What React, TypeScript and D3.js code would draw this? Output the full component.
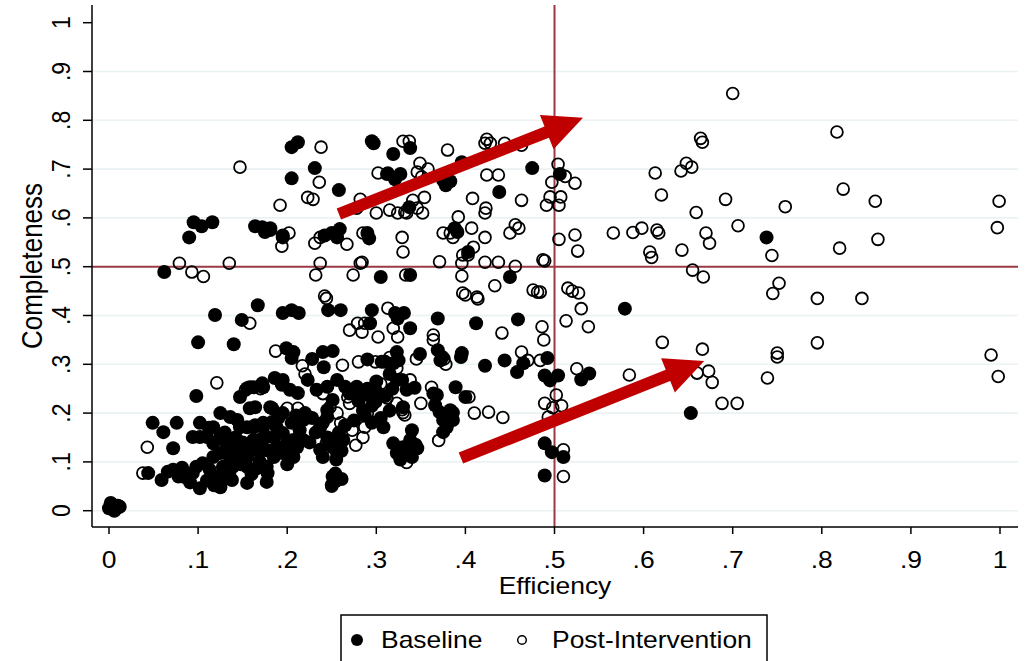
import React from 'react'
import * as d3 from 'd3'

// Baseline facilities: [efficiency, completeness]
const baseline: [number, number][] = [
  [0, .005], [.004, .012], [.008, .004], [.012, .008], [.002, .016], [.006, 0], [.01, .01], [.003, .006],
  [.044, .077], [.059, .063], [.072, .084], [.082, .088], [.085, .069], [.094, .077], [.091, .058], [.102, .046],
  [.105, .097], [.113, .084], [.121, .069], [.125, .048], [.132, .069], [.138, .063], [.127, .063], [.066, .080],
  [.078, .070], [.098, .090], [.110, .062], [.118, .052],
  [.155, .090], [.155, .057], [.177, .090], [.177, .059], [.178, .077], [.160, .075],
  [.049, .180], [.061, .161], [.076, .180], [.072, .128],
  [.094, .151], [.102, .151], [.110, .151], [.125, .151], [.117, .138], [.132, .138], [.139, .124],
  [.102, .180], [.117, .171], [.125, .200], [.136, .192], [.144, .186], [.147, .171],
  [.117, .110], [.125, .118], [.136, .104], [.128, .090], [.147, .118], [.139, .090], [.135, .077], [.155, .110],
  [.155, .130], [.162, .145], [.169, .145], [.177, .151], [.166, .124], [.177, .124],
  [.155, .171], [.164, .175], [.173, .171], [.183, .182], [.162, .171], [.173, .180], [.166, .130], [.173, .149],
  [.188, .171], [.195, .159], [.200, .145], [.214, .165], [.218, .145], [.207, .145],
  [.188, .130], [.203, .124], [.207, .110], [.195, .118], [.211, .130], [.195, .130],
  [.169, .101], [.166, .087],
  [.112, .170], [.130, .160], [.142, .150], [.150, .140], [.185, .150], [.190, .190], [.205, .180], [.210, .195],
  [.228, .190], [.232, .160], [.225, .140], [.140, .105], [.148, .095], [.185, .110], [.200, .095],
  [.158, .210], [.181, .212], [.195, .200], [.220, .200], [.218, .186], [.164, .212], [.183, .210],
  [.098, .235], [.147, .233], [.155, .251], [.162, .253], [.173, .253],
  [.186, .272], [.195, .268], [.158, .253], [.172, .261], [.194, .258], [.203, .248], [.212, .241],
  [.223, .268], [.233, .248], [.245, .254], [.256, .268], [.265, .254], [.278, .254], [.282, .237], [.291, .237], [.299, .223],
  [.237, .171], [.245, .150], [.251, .145], [.259, .150], [.245, .206], [.245, .192], [.251, .227],
  [.240, .110], [.256, .118], [.237, .125], [.251, .130], [.246, .138], [.261, .123], [.255, .105], [.263, .145],
  [.258, .160], [.240, .180], [.265, .175],
  [.251, .070], [.254, .076], [.254, .060], [.250, .053], [.261, .065],
  [.287, .195], [.295, .215], [.280, .225], [.305, .190], [.290, .250], [.300, .245], [.310, .235], [.285, .205],
  [.275, .185], [.295, .180], [.315, .205], [.318, .250], [.270, .240], [.300, .265], [.315, .280],
  [.308, .171], [.340, .165], [.330, .212],
  [.323, .268], [.329, .268], [.334, .248], [.343, .252], [.389, .253], [.400, .233],
  [.364, .240], [.368, .237], [.366, .216], [.371, .202], [.375, .186], [.386, .201], [.386, .186], [.379, .171],
  [.375, .161], [.383, .206],
  [.319, .138], [.330, .130], [.346, .128], [.334, .118], [.323, .118], [.338, .145], [.344, .135], [.327, .105], [.340, .110],
  [.489, .138], [.497, .120], [.510, .110], [.489, .072], [.653, .200],
  [.167, .421], [.119, .401], [.149, .391], [.100, .345], [.140, .341],
  [.195, .405], [.205, .411], [.213, .405], [.246, .411], [.260, .411], [.295, .411],
  [.321, .405], [.331, .405], [.324, .394], [.369, .394], [.412, .384], [.459, .392], [.579, .414],
  [.293, .384], [.338, .374],
  [.199, .333], [.207, .325], [.205, .313], [.228, .311], [.240, .325], [.251, .327], [.241, .294],
  [.290, .310], [.306, .305], [.310, .305], [.323, .325], [.325, .308], [.319, .302], [.349, .321],
  [.369, .329], [.374, .315], [.372, .308], [.395, .315], [.396, .323],
  [.422, .297], [.444, .308], [.458, .284], [.465, .302], [.492, .313],
  [.530, .269], [.539, .281], [.489, .277], [.504, .277], [.495, .267],
  [.062, .489], [.090, .560], [.095, .591], [.104, .583], [.116, .591],
  [.164, .583], [.172, .581], [.181, .575], [.175, .571], [.195, .560], [.181, .579], [.195, .564],
  [.205, .745], [.212, .755], [.205, .681], [.231, .702], [.258, .657],
  [.242, .564], [.250, .569], [.259, .577], [.256, .560],
  [.290, .569], [.292, .558], [.295, .757], [.297, .753], [.319, .731], [.338, .743],
  [.312, .690], [.321, .679], [.327, .690], [.396, .714],
  [.375, .677], [.383, .675], [.378, .667], [.438, .653], [.475, .702], [.506, .690],
  [.337, .622], [.305, .479], [.338, .483],
  [.388, .579], [.391, .571], [.403, .530], [.450, .479], [.738, .560],
]

// Post-intervention facilities
const post: [number, number][] = [
  [.700, .855], [.817, .776], [.664, .763], [.666, .755], [.504, .710], [.512, .685], [.523, .671], [.497, .673],
  [.495, .643], [.507, .643], [.491, .626], [.505, .626], [.613, .692], [.648, .712], [.654, .704], [.642, .696],
  [.620, .647], [.692, .638], [.659, .611], [.759, .623], [.824, .659], [.860, .634], [.999, .634], [.997, .580],
  [.863, .556], [.820, .538], [.744, .523], [.706, .584], [.670, .569], [.674, .548], [.643, .534], [.607, .530],
  [.609, .519], [.615, .575], [.617, .569], [.598, .579], [.588, .570], [.566, .569], [.523, .565], [.505, .556],
  [.526, .532], [.489, .512], [.655, .493], [.667, .479], [.752, .466], [.745, .445], [.795, .435], [.845, .435],
  [.484, .448], [.520, .450], [.527, .446], [.530, .414], [.513, .389], [.538, .377], [.486, .377], [.488, .350],
  [.525, .291], [.502, .237], [.489, .220], [.508, .215], [.498, .211], [.510, .125], [.510, .070], [.493, .192],
  [.621, .345], [.666, .331], [.584, .278], [.660, .282], [.673, .286], [.677, .263], [.688, .220], [.705, .220],
  [.750, .323], [.750, .315], [.739, .272], [.795, .344], [.990, .319], [.998, .275],
  [.079, .507], [.093, .489], [.106, .480], [.135, .507], [.147, .704], [.192, .626], [.223, .642], [.229, .638],
  [.202, .569], [.194, .542], [.238, .745], [.236, .673], [.231, .548], [.237, .560], [.267, .546], [.285, .569],
  [.329, .560], [.330, .530], [.282, .507], [.237, .507], [.232, .483], [.274, .483], [.333, .483], [.242, .440],
  [.330, .757], [.337, .757], [.380, .739], [.424, .761], [.428, .753], [.422, .753], [.444, .753], [.463, .749],
  [.302, .692], [.313, .692], [.349, .712], [.346, .694], [.358, .700], [.351, .684], [.424, .688], [.437, .688],
  [.463, .636], [.408, .640], [.423, .620], [.422, .610], [.282, .638], [.278, .620],
  [.300, .610], [.315, .616], [.324, .610], [.332, .612], [.341, .636], [.354, .642], [.346, .620], [.352, .610], [.334, .610],
  [.371, .510], [.375, .569], [.383, .569], [.386, .560], [.392, .602], [.407, .579], [.422, .560], [.450, .569], [.460, .579],
  [.409, .540], [.403, .524], [.397, .524], [.396, .507], [.422, .509], [.437, .509], [.456, .501], [.396, .481], [.397, .446],
  [.413, .438], [.433, .461], [.476, .452], [.481, .448], [.487, .514], [.515, .456], [.456, .586],
  [.284, .509], [.400, .442], [.414, .434],
  [.244, .435], [.313, .415], [.441, .364], [.364, .360], [.364, .350], [.158, .384],
  [.270, .370], [.279, .384], [.287, .384], [.284, .366], [.302, .356], [.319, .374], [.324, .356],
  [.187, .327], [.217, .297], [.262, .298], [.280, .305], [.299, .305], [.315, .314], [.323, .292], [.345, .311],
  [.376, .311], [.378, .300], [.463, .325], [.470, .308], [.484, .308],
  [.305, .260], [.312, .231], [.323, .220], [.329, .207], [.330, .201], [.338, .268], [.362, .253],
  [.404, .233], [.410, .200], [.426, .202], [.442, .191], [.370, .144], [.332, .196], [.334, .099],
  [.121, .262], [.153, .247], [.212, .210], [.248, .212], [.256, .200], [.268, .233],
  [.273, .165], [.277, .134], [.285, .150], [.287, .171], [.244, .138], [.259, .130], [.250, .050],
  [.043, .130], [.038, .077], [.128, .088],
  [.170, .250], [.200, .210], [.240, .240], [.270, .220], [.300, .240], [.350, .220], [.220, .280], [.260, .180], [.290, .200],
]

const ticks = [0, .1, .2, .3, .4, .5, .6, .7, .8, .9, 1]
const gridTicks = [0, .1, .2, .3, .4, .5, .6, .7, .8, .9]
const refX = 0.5
const refY = 0.5
// arrows: [x0, y0, x1, y1] in data units
const arrows: [number, number, number, number][] = [
  [.258, .608, .532, .805],
  [.395, .108, .668, .307],
]

const tickLabel = (v: number) => (v === 0 ? '0' : v === 1 ? '1' : d3.format('.1f')(v).replace(/^0/, ''))

export default function App() {
  const W = 1026, H = 661
  const left = 92, right = 1018, top = 5, bottom = 527
  const x = d3.scaleLinear().domain([0, 1]).range([109, 1000])
  const y = d3.scaleLinear().domain([0, 1]).range([510.7, 22.7])
  const font = '"Liberation Sans", Arial, sans-serif'
  const sx = 1.15

  const arrowPath = ([a, b, c, d]: [number, number, number, number]) => {
    const x0 = x(a), y0 = y(b), x1 = x(c), y1 = y(d)
    const len = Math.hypot(x1 - x0, y1 - y0)
    const ux = (x1 - x0) / len, uy = (y1 - y0) / len
    const nx = -uy, ny = ux
    const hw = 6, hl = 39, hh = 18.5
    const bx = x1 - ux * hl, by = y1 - uy * hl
    const pts = [
      [x0 + nx * hw, y0 + ny * hw],
      [bx + nx * hw, by + ny * hw],
      [bx + nx * hh, by + ny * hh],
      [x1, y1],
      [bx - nx * hh, by - ny * hh],
      [bx - nx * hw, by - ny * hw],
      [x0 - nx * hw, y0 - ny * hw],
    ]
    return d3.line()(pts as [number, number][]) + 'Z'
  }

  return (
    <svg width={W} height={H} style={{ position: 'absolute', left: 0, top: 0, background: '#fff' }}
      fontFamily={font}>
      {/* grid */}
      {gridTicks.map(t => (
        <line key={'g' + t} x1={left} x2={right} y1={y(t)} y2={y(t)} stroke="#eaf2f3" strokeWidth={1.6} />
      ))}
      {/* reference lines */}
      <line x1={left} x2={right} y1={y(refY)} y2={y(refY)} stroke="#9c3a45" strokeWidth={2} />
      <line x1={x(refX)} x2={x(refX)} y1={top} y2={bottom} stroke="#9c3a45" strokeWidth={2} />

      {/* post-intervention, hollow */}
      <g fill="none" stroke="#000" strokeWidth={1.8}>
        {post.map((d, i) => <circle key={'p' + i} cx={x(d[0])} cy={y(d[1])} r={5.9} />)}
      </g>
      {/* baseline, filled */}
      <g fill="#000">
        {baseline.map((d, i) => <circle key={'b' + i} cx={x(d[0])} cy={y(d[1])} r={7} />)}
      </g>

      {/* arrows */}
      {arrows.map((a, i) => <path key={'a' + i} d={arrowPath(a)} fill="#c00000" />)}

      {/* axes */}
      <line x1={left} x2={left} y1={top} y2={bottom} stroke="#000" strokeWidth={1.5} />
      <line x1={left} x2={right} y1={bottom} y2={bottom} stroke="#000" strokeWidth={1.5} />
      {ticks.map(t => (
        <g key={'yt' + t}>
          <line x1={left - 9} x2={left} y1={y(t)} y2={y(t)} stroke="#000" strokeWidth={1.5} />
          <text transform={`translate(70,${y(t)}) scale(${sx},1) rotate(-90)`} textAnchor="middle"
            fontSize={23}>{tickLabel(t)}</text>
        </g>
      ))}
      {ticks.map(t => (
        <g key={'xt' + t}>
          <line x1={x(t)} x2={x(t)} y1={bottom} y2={bottom + 7} stroke="#000" strokeWidth={1.5} />
          <text transform={`translate(${x(t)},568) scale(${sx},1)`} textAnchor="middle"
            fontSize={23}>{tickLabel(t)}</text>
        </g>
      ))}
      <text transform={`translate(555,594) scale(${sx},1)`} textAnchor="middle" fontSize={23}>Efficiency</text>
      <text transform={`translate(41.5,266) scale(1.12,1) rotate(-90)`} textAnchor="middle" fontSize={26}>Completeness</text>

      {/* legend */}
      <rect x={341} y={615} width={426} height={70} fill="#fff" stroke="#000" strokeWidth={1.5} />
      <circle cx={357} cy={640} r={6} fill="#000" />
      <text transform={`translate(381,648) scale(${sx},1)`} fontSize={23}>Baseline</text>
      <circle cx={522} cy={640} r={4.3} fill="none" stroke="#000" strokeWidth={1.5} />
      <text transform={`translate(552,648) scale(${sx},1)`} fontSize={23}>Post-Intervention</text>
    </svg>
  )
}
